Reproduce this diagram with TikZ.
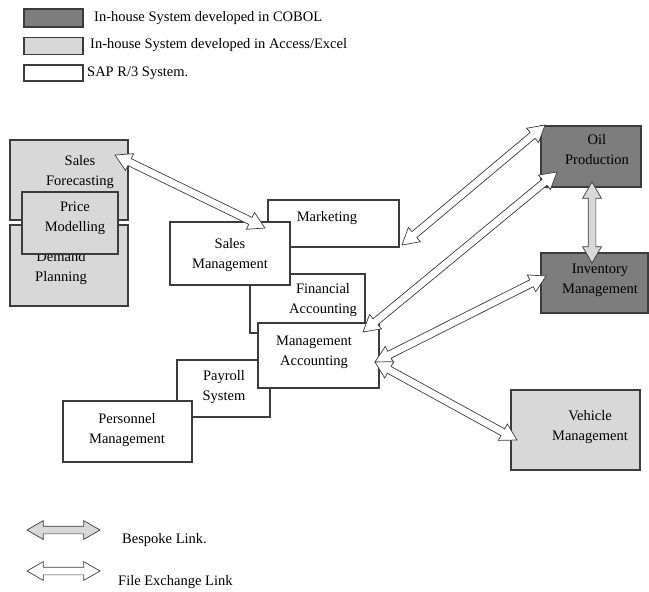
\documentclass[tikz,border=0pt]{standalone}
\usepackage{fontspec}
\setmainfont{Liberation Serif}
\usetikzlibrary{positioning,shapes.arrows,calc}

\definecolor{cobolgray}{RGB}{125,125,125}
\definecolor{accessgray}{RGB}{216,216,216}
\definecolor{edgegray}{RGB}{60,60,60}

\tikzset{
  sysbox/.style={draw=edgegray, line width=1.1pt, fill=white, inner sep=0pt},
  txt/.style={align=center, inner sep=0pt},
  linkarrow/.style={double arrow, draw=edgegray, line width=0.7pt, fill=white,
    inner sep=0pt, inner ysep=3.5pt, minimum width=0pt,
    double arrow head extend=5.5pt, double arrow tip angle=60},
  bespoke/.style={linkarrow, fill=accessgray},
}

% hollow double arrow between two named points
\newcommand{\syslink}[3]{%
  \path let \p1=(#2), \p2=(#3),
    \n1={atan2(\y2-\y1,\x2-\x1)}, \n2={veclen(\x2-\x1,\y2-\y1)} in
    node[#1, minimum height=\n2, rotate=\n1] at ($(#2)!0.5!(#3)$) {};}

\begin{document}
\begin{tikzpicture}[x=1pt, y=-1pt, font=\fontsize{14.5}{20}\selectfont]
\useasboundingbox (0,0) rectangle (649,592);

% legend
\node[sysbox, fill=cobolgray, minimum width=59pt, minimum height=18pt] (keycobol) at (53.5,18) {};
\node[txt, anchor=west] (keycobol-t) at (94,18) {In-house System developed in COBOL};
\node[sysbox, fill=accessgray, minimum width=59pt, minimum height=17pt] (keyaccess) at (53.5,46) {};
\node[txt, anchor=west] (keyaccess-t) at (90,45) {In-house System developed in Access/Excel};
\node[sysbox, minimum width=59pt, minimum height=16pt] (keysap) at (53.5,73) {};
\node[txt, anchor=west] (keysap-t) at (87,73) {SAP R/3 System.};

% access / excel systems
\node[sysbox, fill=accessgray, minimum width=118pt, minimum height=80pt] (salesfc) at (69,180) {};
\node[txt] (salesfc-t) at (80,172) {Sales\\Forecasting};
\node[sysbox, fill=accessgray, minimum width=118pt, minimum height=81pt] (demand) at (69,265.5) {};
\node[txt] (demand-t) at (61,268) {Demand\\Planning};
\node[sysbox, fill=accessgray, minimum width=96pt, minimum height=62pt] (price) at (70,223) {};
\node[txt] (price-t) at (75,218) {Price\\Modelling};

% SAP R/3 modules
\node[sysbox, minimum width=115pt, minimum height=59pt] (finacc) at (307.5,303.5) {};
\node[txt] (finacc-t) at (323,300) {Financial\\Accounting};
\node[sysbox, minimum width=131pt, minimum height=47pt] (marketing) at (333.5,223.5) {};
\node[txt] (marketing-t) at (327,218) {Marketing};
\node[sysbox, minimum width=120pt, minimum height=63pt] (salesmgmt) at (230,253.5) {};
\node[txt] (salesmgmt-t) at (230,255) {Sales\\Management};
\node[sysbox, minimum width=93pt, minimum height=57pt] (payroll) at (223.5,388.5) {};
\node[txt] (payroll-t) at (224,387) {Payroll\\System};
\node[sysbox, minimum width=121pt, minimum height=65pt] (mgmtacc) at (318.5,355.5) {};
\node[txt] (mgmtacc-t) at (314,352) {Management\\Accounting};
\node[sysbox, minimum width=129pt, minimum height=61pt] (personnel) at (127.5,431.5) {};
\node[txt] (personnel-t) at (127,430) {Personnel\\Management};

% COBOL systems
\node[sysbox, fill=cobolgray, minimum width=100pt, minimum height=61pt] (oil) at (591,156.5) {};
\node[txt] (oil-t) at (597,150) {Oil\\Production};
\node[sysbox, fill=cobolgray, minimum width=107pt, minimum height=60pt] (inventory) at (594.5,283) {};
\node[txt] (inventory-t) at (600,280) {Inventory\\Management};
\node[sysbox, fill=accessgray, minimum width=129pt, minimum height=80pt] (vehicle) at (575.5,430) {};
\node[txt] (vehicle-t) at (590,427) {Vehicle\\Management};

% link ends
\coordinate (salesfc-l) at (115,155);
\coordinate (salesmgmt-l) at (265,228);
\coordinate (marketing-l) at (402,245);
\coordinate (oil-l1) at (545,125);
\coordinate (oil-l2) at (557,172);
\coordinate (oil-l3) at (592,182);
\coordinate (finacc-l) at (363,332);
\coordinate (mgmtacc-l) at (375,362);
\coordinate (inventory-l1) at (546,276);
\coordinate (inventory-l2) at (592,263);
\coordinate (vehicle-l) at (517,440);

\syslink{linkarrow}{salesfc-l}{salesmgmt-l}
\syslink{linkarrow}{marketing-l}{oil-l1}
\syslink{linkarrow}{finacc-l}{oil-l2}
\syslink{linkarrow}{mgmtacc-l}{inventory-l1}
\syslink{linkarrow}{mgmtacc-l}{vehicle-l}
\syslink{bespoke}{oil-l3}{inventory-l2}

% link legend
\coordinate (keybsp-a) at (27,530);
\coordinate (keybsp-b) at (100,530);
\coordinate (keyfile-a) at (27,571);
\coordinate (keyfile-b) at (100,571);
\syslink{bespoke}{keybsp-a}{keybsp-b}
\syslink{linkarrow}{keyfile-a}{keyfile-b}
\node[txt, anchor=west] (keybsp-t) at (122,540) {Bespoke Link.};
\node[txt, anchor=west] (keyfile-t) at (118,582) {File Exchange Link};
\end{tikzpicture}
\end{document}
